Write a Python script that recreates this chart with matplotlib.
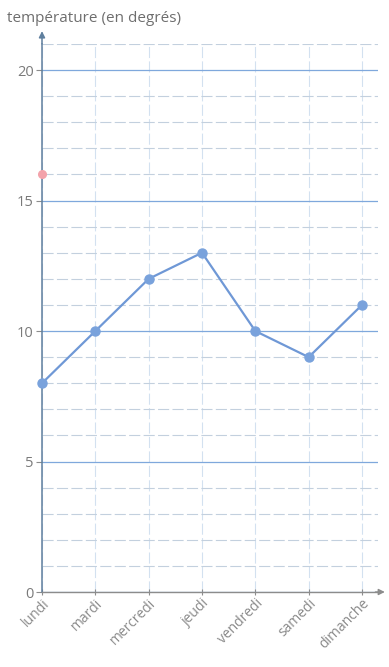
import matplotlib
matplotlib.use("Agg")
import matplotlib.pyplot as plt
from matplotlib.ticker import MultipleLocator

jours = ["lundi", "mardi", "mercredi", "jeudi", "vendredi", "samedi", "dimanche"]
temperatures = [8, 10, 12, 13, 10, 9, 11]
point_rose = (0, 16)
graduations_y = [0, 5, 10, 15, 20]

plt.rcParams["font.family"] = ["Open Sans", "DejaVu Sans"]

fig = plt.figure(figsize=(3.89, 6.67), dpi=100)
ax = fig.add_axes([42 / 389, 1 - 592 / 667, (378 - 42) / 389, (592 - 44) / 667])

x = list(range(len(jours)))
ax.set_xlim(0, 6.3)
ax.set_ylim(0, 21)

# grid: light lines every degree, stronger blue every 5 degrees
ax.yaxis.set_minor_locator(MultipleLocator(1))
ax.set_yticks(graduations_y)
ax.set_xticks(x)
ax.grid(which="minor", axis="y", color="#c3d0de", linewidth=0.8, linestyle=(0, (10, 3)))
ax.grid(which="major", axis="y", color="#7fa8dc", linewidth=0.9)
ax.grid(which="major", axis="x", color="#d3e1f0", linewidth=0.8, linestyle=(0, (10, 3)))
ax.set_axisbelow(True)

for s in ["top", "right"]:
    ax.spines[s].set_visible(False)
ax.spines["left"].set_color("#5f7f9e")
ax.spines["left"].set_linewidth(1.1)
ax.spines["bottom"].set_color("#8c8c8c")
ax.spines["bottom"].set_linewidth(1.0)

# arrows at the ends of the axes
ax.annotate("", xy=(0, 21.6), xytext=(0, 20.9), xycoords="data",
            arrowprops=dict(arrowstyle="-|>", color="#5f7f9e", lw=1.1,
                            mutation_scale=9), annotation_clip=False)
ax.annotate("", xy=(6.48, 0), xytext=(6.2, 0), xycoords="data",
            arrowprops=dict(arrowstyle="-|>", color="#8c8c8c", lw=1.0,
                            mutation_scale=9), annotation_clip=False)

ax.plot(x, temperatures, color="#6f98d6", linewidth=1.6, marker="o",
        markersize=6.5, markerfacecolor="#79a2dc", markeredgecolor="#79a2dc",
        zorder=5, clip_on=False)
ax.plot([point_rose[0]], [point_rose[1]], marker="o", markersize=5.5,
        color="#f3a3ab", zorder=6, clip_on=False)

ax.tick_params(axis="y", which="major", length=4, width=0.8, color="#8c8c8c",
               labelsize=10.5, labelcolor="#7a7a7a", pad=2)
ax.tick_params(axis="y", which="minor", length=0)
ax.tick_params(axis="x", length=4, width=0.8, color="#8c8c8c", direction="inout",
               labelsize=10, labelcolor="#8a8a8a", pad=1)
ax.set_xticklabels(jours, rotation=45, ha="right", rotation_mode="anchor")

fig.text(7 / 389, 1 - 18 / 667, "température (en degrés)", fontsize=11,
         color="#6e6e6e", va="center", ha="left")

fig.savefig("out.png", dpi=100)
